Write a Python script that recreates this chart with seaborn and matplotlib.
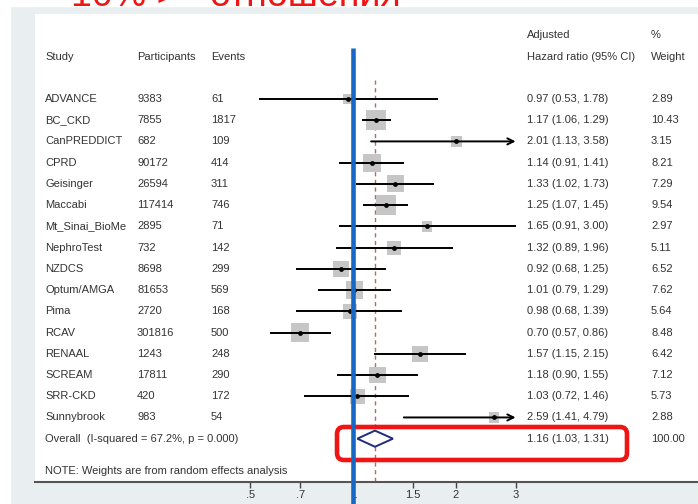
import numpy as np
import pandas as pd
import matplotlib
matplotlib.use("Agg")
import matplotlib.pyplot as plt
import seaborn as sns
from matplotlib.patches import Rectangle, FancyBboxPatch, Polygon
from matplotlib.transforms import IdentityTransform
from matplotlib.ticker import NullLocator

# ---------------- data ----------------
studies = ["ADVANCE", "BC_CKD", "CanPREDDICT", "CPRD", "Geisinger", "Maccabi",
           "Mt_Sinai_BioMe", "NephroTest", "NZDCS", "Optum/AMGA", "Pima", "RCAV",
           "RENAAL", "SCREAM", "SRR-CKD", "Sunnybrook"]
participants = ["9383", "7855", "682", "90172", "26594", "117414", "2895", "732",
                "8698", "81653", "2720", "301816", "1243", "17811", "420", "983"]
events = ["61", "1817", "109", "414", "311", "746", "71", "142", "299", "569",
          "168", "500", "248", "290", "172", "54"]
hr = [0.97, 1.17, 2.01, 1.14, 1.33, 1.25, 1.65, 1.32, 0.92, 1.01, 0.98, 0.70,
      1.57, 1.18, 1.03, 2.59]
ci_low = [0.53, 1.06, 1.13, 0.91, 1.02, 1.07, 0.91, 0.89, 0.68, 0.79, 0.68, 0.57,
          1.15, 0.90, 0.72, 1.41]
ci_high = [1.78, 1.29, 3.58, 1.41, 1.73, 1.45, 3.00, 1.96, 1.25, 1.29, 1.39, 0.86,
           2.15, 1.55, 1.46, 4.79]
weights = [2.89, 10.43, 3.15, 8.21, 7.29, 9.54, 2.97, 5.11, 6.52, 7.62, 5.64, 8.48,
           6.42, 7.12, 5.73, 2.88]
overall_hr, overall_low, overall_high = 1.16, 1.03, 1.31
overall_label = "Overall  (I-squared = 67.2%, p = 0.000)"
note_label = "NOTE: Weights are from random effects analysis"
tick_values = [0.5, 0.7, 1, 1.5, 2, 3]
tick_labels = [".5", ".7", "1", "1.5", "2", "3"]
x_clip = 3.0

df = pd.DataFrame({"study": studies, "hr": hr, "lo": ci_low, "hi": ci_high,
                   "weight": weights})
df["row"] = np.arange(len(df))

# ---------------- style ----------------
sns.set_theme(style="white")
plt.rcParams["font.family"] = ["Liberation Sans", "DejaVu Sans"]

W, H = 698, 504
fig = plt.figure(figsize=(W / 100, H / 100), dpi=100, facecolor="#e9eef0")

def fx(px):
    return px / W

def fy(py):
    return 1 - py / H

# white margins of the slide
fig.add_artist(Rectangle((0, 0), fx(10), 1, transform=fig.transFigure,
                         color="white", zorder=-5))
fig.add_artist(Rectangle((0, fy(6)), 1, 6 / H, transform=fig.transFigure,
                         color="white", zorder=-5))

ax = fig.add_axes([fx(35), 1 - 482 / H, 663 / W, 468 / H])
ax.set_facecolor("white")
ax.set_xscale("log")
ax.set_xlim(np.exp((35 - 353) / 148), np.exp((698 - 353) / 148))
ax.set_ylim(18.04, -4.0)

text_col = "#333333"
fs = 8

def colx(px):
    return (px - 35) / 663

tr = ax.get_yaxis_transform()
# headers
ax.text(colx(45), -1.98, "Study", transform=tr, fontsize=fs, color=text_col, va="center")
ax.text(colx(137), -1.98, "Participants", transform=tr, fontsize=fs, color=text_col, va="center")
ax.text(colx(211), -1.98, "Events", transform=tr, fontsize=fs, color=text_col, va="center")
ax.text(colx(527), -3.0, "Adjusted", transform=tr, fontsize=fs, color=text_col, va="center")
ax.text(colx(527), -1.98, "Hazard ratio (95% CI)", transform=tr, fontsize=fs, color=text_col, va="center")
ax.text(colx(651), -3.0, "%", transform=tr, fontsize=fs, color=text_col, va="center")
ax.text(colx(651), -1.98, "Weight", transform=tr, fontsize=fs, color=text_col, va="center")

for i in range(len(studies)):
    ax.text(colx(45), i, studies[i], transform=tr, fontsize=fs, color=text_col, va="center")
    ax.text(colx(137), i, participants[i], transform=tr, fontsize=fs, color=text_col, va="center")
    ax.text(colx(211), i, events[i], transform=tr, fontsize=fs, color=text_col, va="center")
    ax.text(colx(527), i, f"{hr[i]:.2f} ({ci_low[i]:.2f}, {ci_high[i]:.2f})",
            transform=tr, fontsize=fs, color=text_col, va="center")
    ax.text(colx(651), i, f"{weights[i]:.2f}", transform=tr, fontsize=fs,
            color=text_col, va="center")

n = len(studies)
ax.text(colx(45), n, overall_label, transform=tr, fontsize=fs, color=text_col, va="center")
ax.text(colx(527), n, f"{overall_hr:.2f} ({overall_low:.2f}, {overall_high:.2f})",
        transform=tr, fontsize=fs, color=text_col, va="center")
ax.text(colx(651), n, "100.00", transform=tr, fontsize=fs, color=text_col, va="center")
ax.text(colx(45), n + 1.5, note_label, transform=tr, fontsize=fs, color=text_col, va="center")

# weight squares
sns.scatterplot(data=df, x="hr", y="row", size="weight", sizes=(0, 210),
                size_norm=(0, max(weights)), marker="s", color="#c6c6c6",
                linewidth=0, legend=False, ax=ax, zorder=2)

# CI lines
for i in range(n):
    if ci_high[i] > x_clip:
        ax.annotate("", xy=(x_clip, i), xytext=(ci_low[i], i),
                    arrowprops=dict(arrowstyle="->", color="black", lw=1.4,
                                    mutation_scale=11, shrinkA=0, shrinkB=0),
                    zorder=3)
    else:
        ax.plot([ci_low[i], ci_high[i]], [i, i], color="black", lw=1.4,
                solid_capstyle="butt", zorder=3)

# point estimates
sns.scatterplot(data=df, x="hr", y="row", s=12, color="black", linewidth=0,
                legend=False, ax=ax, zorder=4)

# overall diamond
dh = 0.38
ax.add_patch(Polygon([(overall_low, n), (overall_hr, n - dh), (overall_high, n),
                      (overall_hr, n + dh)], closed=True, facecolor="white",
                     edgecolor="#1f2d7a", lw=1.4, zorder=4))

# dashed overall line
ax.plot([overall_hr, overall_hr], [-0.9, 18.04], color="#b36a6a", lw=1.0,
        dashes=(3, 2.5), zorder=1)

# red highlight box (display pixels)
ax.add_patch(FancyBboxPatch((337, H - 460), 290, 33,
                            boxstyle="round,pad=0,rounding_size=7",
                            transform=IdentityTransform(), facecolor="none",
                            edgecolor="#ee1515", lw=3.3, clip_on=False, zorder=5))

# blue null line
ax.plot([1, 1], [-2.4, 18.04 + 22 / 21.23], color="#1668c4", lw=3.3,
        clip_on=False, zorder=6, solid_capstyle="butt")

# axes cosmetics
for s in ["top", "right", "left"]:
    ax.spines[s].set_visible(False)
ax.spines["bottom"].set_color("#555555")
ax.spines["bottom"].set_linewidth(1.5)
ax.set_xticks(tick_values)
ax.set_xticklabels(tick_labels)
ax.xaxis.set_minor_locator(NullLocator())
ax.set_yticks([])
ax.tick_params(axis="x", direction="out", length=4, width=1, color="#444444",
               labelsize=8, labelcolor="#333333", pad=1.5, bottom=True)
ax.set_xlabel("")
ax.set_ylabel("")

# red slide title (partially cut off at the top, as in the slide screenshot)
fig.text(fx(71), fy(6), "10% >", color="#f01414", fontsize=27, va="baseline")
fig.text(fx(209), fy(6), "отношения", color="#f01414", fontsize=27, va="baseline")

fig.savefig("out.png", dpi=100, facecolor=fig.get_facecolor())
